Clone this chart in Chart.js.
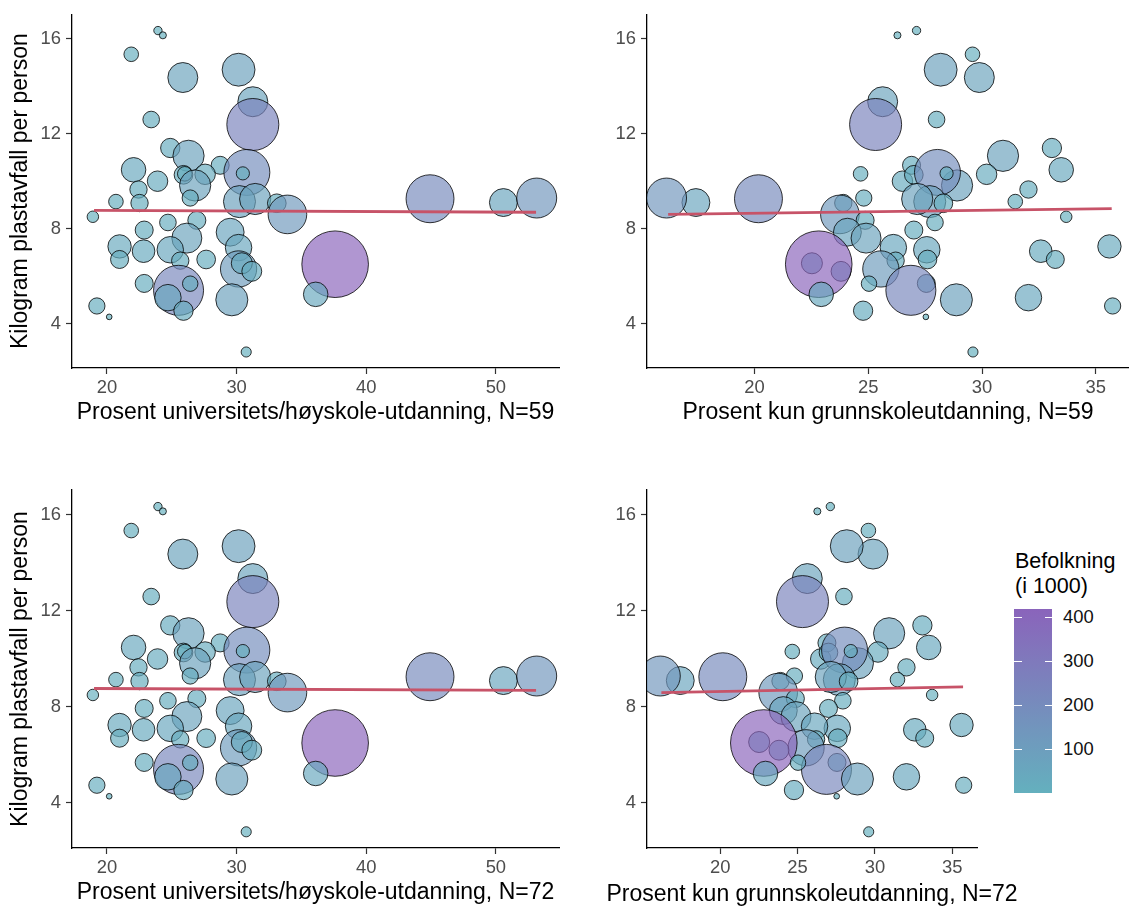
<!DOCTYPE html>
<html><head><meta charset="utf-8">
<script src="https://cdn.jsdelivr.net/npm/chart.js@4.4.1/dist/chart.umd.min.js"></script>
<style>
html,body{margin:0;padding:0;background:#fff;}
body{width:1129px;height:908px;position:relative;overflow:hidden;font-family:"Liberation Sans",Arial,sans-serif;}
canvas{position:absolute;}
.lgt{position:absolute;left:1015px;top:549px;font-size:21.5px;line-height:25px;color:#000;white-space:nowrap;}
.bar{position:absolute;}
.tk{position:absolute;height:1.2px;background:#fff;}
.lbl{position:absolute;font-size:18.4px;line-height:20px;color:#111;}
.xt{position:absolute;font-size:23px;line-height:23px;color:#000;white-space:nowrap;transform:translateX(-50%);}
</style></head><body>
<canvas id="c1" width="565" height="432" style="left:0;top:0"></canvas>
<canvas id="c2" width="549" height="432" style="left:580px;top:0"></canvas>
<canvas id="c3" width="565" height="438" style="left:0;top:470px"></canvas>
<canvas id="c4" width="405" height="438" style="left:580px;top:470px"></canvas>
<div id="legend"></div>
<script>
// ---- data (one entry per municipality) ----
const univ  = [23.93,24.31,21.87,25.85,30.15,31.25,31.25,23.41,24.88,26.29,22.05,23.90,28.73,27.57,25.90,26.00,26.80,30.79,30.48,22.43,22.51,20.69,26.42,30.22,31.43,33.10,33.92,18.91,44.92,50.58,53.15,24.70,26.93,22.87,29.50,26.16,20.97,22.82,24.88,30.15,20.97,27.65,25.65,30.15,30.40,31.17,37.60,22.87,25.52,26.42,24.70,25.90,36.10,29.63,19.22,20.17,30.74];
const grunn = [27.12,26.28,29.58,29.88,28.18,25.63,25.32,28.00,33.07,30.92,33.48,26.50,26.90,30.20,27.00,24.66,28.90,28.04,28.44,32.04,23.90,31.46,24.80,27.70,27.15,28.30,23.75,33.70,20.17,17.42,16.13,27.93,24.86,27.00,24.08,24.90,35.60,32.58,27.57,26.10,33.22,27.60,26.20,25.55,22.52,23.80,22.82,27.55,26.87,25.03,32.04,24.77,22.93,28.87,35.74,27.53,29.60];
const kg    = [16.35,16.15,15.35,14.37,14.70,13.35,12.39,12.60,11.40,11.07,10.48,10.00,10.67,10.29,10.27,10.31,9.82,10.37,10.33,9.65,9.08,9.14,9.29,9.14,9.25,9.07,8.60,8.50,9.26,9.10,9.29,8.26,8.35,7.94,7.85,7.60,7.25,7.05,7.11,7.20,6.70,6.70,6.65,6.30,6.54,6.20,6.50,5.69,5.40,5.68,5.09,4.54,5.23,5.00,4.74,4.28,2.80];
const pop   = [3,2,13,73,90,73,247,18,26,80,46,30,22,30,24,13,80,189,10,20,20,13,17,85,80,24,129,7,207,62,139,18,22,22,62,73,41,38,55,55,22,24,20,112,32,28,419,22,227,15,55,26,46,85,17,1.3,5];

// fitted lines
const fitUnivX  = [19.0, 53.1];
const fitUnivY  = [8.77, 8.69];
const fitGrunnX = [16.2, 35.7];
const fitGrunnY = [8.60, 8.84];

// ticks and labels
const yTicks = [4, 8, 12, 16];
const xTicksUniv = [20, 30, 40, 50];
const xTicksGrunn = [20, 25, 30, 35];
const legendTicks = [100, 200, 300, 400];
const popMin = 1, popMax = 419;
const yTitle = 'Kilogram plastavfall per person';
const xTitles = ['Prosent universitets/høyskole-utdanning, N=59','Prosent kun grunnskoleutdanning, N=59',
                 'Prosent universitets/høyskole-utdanning, N=72','Prosent kun grunnskoleutdanning, N=72'];

// ---- styling helpers ----
const FONT = '"Liberation Sans", Arial, sans-serif';
const LOW = [100,176,190], HIGH = [138,100,187];
function colorOf(p, a){
  const t = Math.max(0, Math.min(1, (p - popMin) / (popMax - popMin)));
  const c = LOW.map((v,i)=>Math.round(v + (HIGH[i]-v)*t));
  return `rgba(${c[0]},${c[1]},${c[2]},${a})`;
}
const R_MIN = 2, R_MAX = 33.3;
function radiusOf(p){ return R_MIN + (R_MAX - R_MIN) * Math.sqrt(Math.max(0,(p - popMin)) / (popMax - popMin)); }

function makeChart(id, opts){
  const xs = opts.xs;
  const bubbles = xs.map((x,i)=>({x:x, y:kg[i], r:radiusOf(pop[i])}));
  const line = opts.fx.map((x,i)=>({x:x, y:opts.fy[i]}));
  return new Chart(document.getElementById(id), {
    type:'bubble',
    data:{datasets:[
      {type:'line', data:line, borderColor:'#C75368', borderWidth:2.8, pointRadius:0, fill:false, order:0, tension:0},
      {type:'bubble', data:bubbles, backgroundColor:pop.map(p=>colorOf(p,0.68)), borderColor:'rgba(0,0,0,0.78)', borderWidth:1, order:1, hoverRadius:0}
    ]},
    options:{
      responsive:false, animation:false, events:[],
      layout:{padding:opts.pad, autoPadding:false},
      plugins:{legend:{display:false}, tooltip:{enabled:false}},
      scales:{
        x:{type:'linear', min:opts.xmin, max:opts.xmax,
          afterBuildTicks: ax=>{ ax.ticks = opts.xt.map(v=>({value:v})); },
          afterFit: ax=>{ ax.height = opts.xh; },
          grid:{display:true, drawOnChartArea:false, drawTicks:true, tickLength:6, tickWidth:1.2, tickColor:'#333', color:'#333'},
          border:{display:true, color:'#000', width:1.3},
          ticks:{color:'#4d4d4d', font:{family:FONT, size:18.4, lineHeight:1}, padding:5, autoSkip:false, maxRotation:0, callback:v=>String(v)},
          title:{display:opts.xtitle!==null, text:opts.xtitle||'', color:'#000', font:{family:FONT, size:23, lineHeight:1}, padding:{top:0, bottom:opts.xtp}}
        },
        y:{type:'linear', min:2.125, max:17.04,
          afterBuildTicks: ax=>{ ax.ticks = yTicks.map(v=>({value:v})); },
          afterFit: ax=>{ ax.width = opts.yw; },
          grid:{display:true, drawOnChartArea:false, drawTicks:true, tickLength:6, tickWidth:1.2, tickColor:'#333', color:'#333'},
          border:{display:true, color:'#000', width:1.3},
          ticks:{color:'#4d4d4d', font:{family:FONT, size:18.4, lineHeight:1}, padding:5, callback:v=>String(v)},
          title:{display:opts.ytitle, text:yTitle, color:'#000', font:{family:FONT, size:23, lineHeight:1}, padding:{top:9, bottom:0}}
        }
      }
    }
  });
}

makeChart('c1',{xs:univ, fx:fitUnivX, fy:fitUnivY, xmin:17.3, xmax:54.87, xt:xTicksUniv, xtitle:xTitles[0],
  pad:{left:0,top:10,right:6,bottom:0}, xh:64, xtp:7.5, yw:72, ytitle:true});
makeChart('c2',{xs:grunn, fx:fitGrunnX, fy:fitGrunnY, xmin:15.27, xmax:36.46, xt:xTicksGrunn, xtitle:xTitles[1],
  pad:{left:0,top:10,right:0,bottom:0}, xh:64, xtp:7.5, yw:67, ytitle:false});
makeChart('c3',{xs:univ, fx:fitUnivX, fy:fitUnivY, xmin:17.3, xmax:54.87, xt:xTicksUniv, xtitle:xTitles[2],
  pad:{left:0,top:20,right:6,bottom:0}, xh:60, xtp:3.5, yw:72, ytitle:true});
const c4 = makeChart('c4',{xs:grunn, fx:fitGrunnX, fy:fitGrunnY, xmin:15.27, xmax:36.6, xt:xTicksGrunn, xtitle:null,
  pad:{left:0,top:20,right:8,bottom:0}, xh:60, xtp:3.5, yw:67, ytitle:false});

// x title of bottom-right panel (wider than its panel, so placed as text centred on the panel)
(function(){
  const d = document.createElement('div'); d.className='xt'; d.textContent = xTitles[3];
  const ca = c4.chartArea;
  d.style.left = (580 + (ca.left + ca.right)/2) + 'px';
  d.style.top = (470 + 438 - 3.5 - 23) + 'px';
  document.body.appendChild(d);
})();

// ---- colour bar legend ----
(function(){
  const L = document.getElementById('legend');
  const barL = 1014, barW = 38, barTop = 609, barH = 184;
  const t = document.createElement('div'); t.className='lgt'; t.innerHTML='Befolkning<br>(i 1000)'; L.appendChild(t);
  const b = document.createElement('div'); b.className='bar';
  b.style.cssText = `left:${barL}px;top:${barTop}px;width:${barW}px;height:${barH}px;background:linear-gradient(to bottom, ${colorOf(popMax,1)}, ${colorOf(popMin,1)});`;
  L.appendChild(b);
  legendTicks.forEach(v=>{
    const y = barTop + barH - (v - popMin)/(popMax - popMin)*barH;
    [barL, barL+barW-7.5].forEach(x=>{
      const k = document.createElement('div'); k.className='tk';
      k.style.cssText=`left:${x}px;top:${y-0.6}px;width:7.5px;`; L.appendChild(k);
    });
    const s = document.createElement('div'); s.className='lbl'; s.textContent=String(v);
    s.style.left='1063px'; s.style.top=(y-10)+'px'; L.appendChild(s);
  });
})();
</script>
</body></html>
